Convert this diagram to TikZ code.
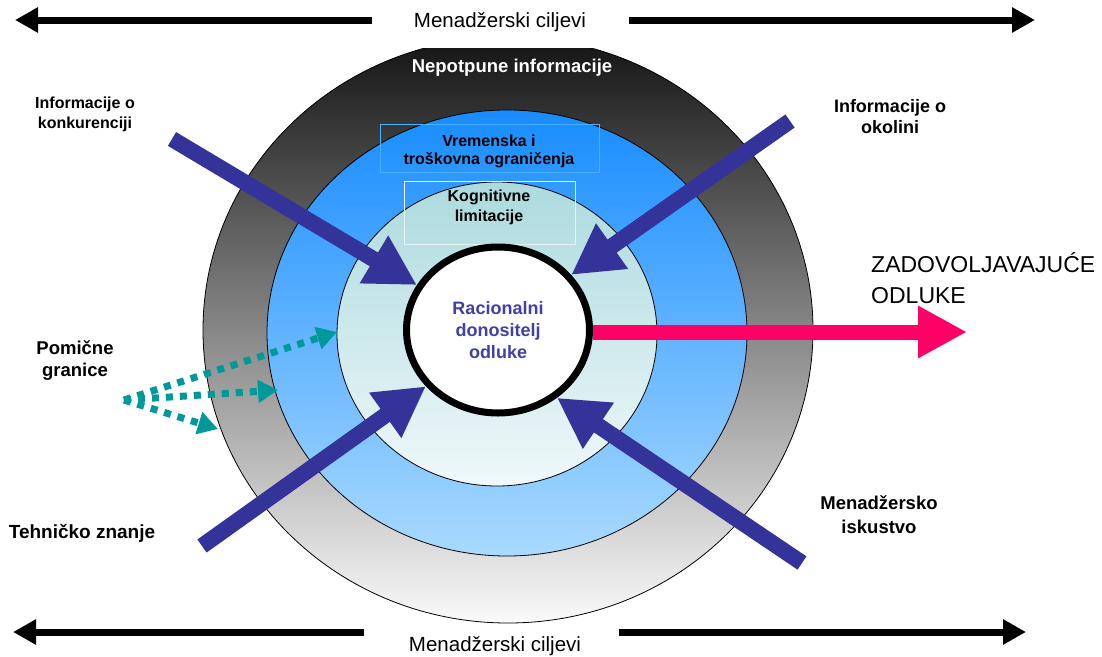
\documentclass[tikz,border=0pt]{standalone}
\usepackage{fontspec}
\setmainfont{Liberation Sans}
\usetikzlibrary{arrows.meta,shapes.geometric}
\definecolor{arrblue}{RGB}{51,51,153}
\definecolor{pinkarr}{RGB}{255,0,102}
\definecolor{tealarr}{RGB}{0,153,153}
\definecolor{bluetop}{RGB}{24,140,255}
\definecolor{bluebot}{RGB}{170,218,255}
\definecolor{cyantop}{RGB}{172,218,222}
\definecolor{cyanbot}{RGB}{240,248,250}
\definecolor{greytop}{RGB}{20,20,20}
\definecolor{greymid}{RGB}{150,150,150}
\definecolor{greybot}{RGB}{250,250,250}
\definecolor{rdotext}{RGB}{64,64,168}
\definecolor{boxblue}{RGB}{70,178,255}
\definecolor{boxwhite}{RGB}{228,242,242}
\begin{document}
\begin{tikzpicture}[x=1pt,y=-1pt,
  lbl/.style={font=\fontsize{16}{20}\selectfont\bfseries, align=center, text=black, inner sep=0pt},
  biglbl/.style={lbl, font=\fontsize{18.5}{23}\selectfont\bfseries},
  goal/.style={line width=7pt, draw=black, -{Triangle[length=23pt,width=24pt]}},
  goaltxt/.style={font=\fontsize{20.5}{24}\selectfont, inner sep=0pt},
  force/.style={line width=16pt, draw=arrblue, -{Triangle[length=50pt,width=52pt]}},
  shiftarr/.style={line width=7pt, draw=tealarr, dash pattern=on 7pt off 7pt, -{Triangle[length=20pt,width=22pt]}},
  ringline/.style={draw=black, line width=0.8pt}
]
\useasboundingbox (0,0) rectangle (1102,656);

% rings
\begin{scope}
  \clip (0,48) rectangle (1102,656);
  \shade[ringline, top color=greytop, middle color=greymid, bottom color=greybot] (508,330) ellipse [x radius=305pt, y radius=293pt];
\end{scope}
\shade[ringline, top color=bluetop, bottom color=bluebot] (507,333) ellipse [x radius=240pt, y radius=223pt];
\shade[ringline, top color=cyantop, bottom color=cyanbot] (497,334) ellipse [x radius=160pt, y radius=152pt];

% text boxes
\draw[boxblue, line width=1pt] (380,124) rectangle (599,172);
\draw[boxwhite, line width=1pt] (404,181) rectangle (575,244);

% ring texts
\node[font=\fontsize{18.5}{22}\selectfont\bfseries, text=white, inner sep=0pt] (ni) at (512,68) {Nepotpune informacije};
\node[lbl, font=\fontsize{16}{18}\selectfont\bfseries] (vt) at (489,151) {Vremenska i\\troškovna ograničenja};
\node[lbl] (kl) at (489,207) {Kognitivne\\limitacije};

% shifting boundaries
\node[biglbl, font=\fontsize{18.5}{22}\selectfont\bfseries] (pg) at (75,361) {Pomične\\granice};
\coordinate (pgs) at (124,400);
\coordinate (pg1) at (337,332);
\coordinate (pg2) at (278,390);
\coordinate (pg3) at (218,429);
\draw[shiftarr] (pgs) -- (pg1);
\draw[shiftarr] (pgs) -- (pg2);
\draw[shiftarr] (pgs) -- (pg3);

% central decision maker
\node[ellipse, draw=black, line width=7pt, fill=white, minimum width=183pt, minimum height=166pt, inner sep=0pt,
      font=\fontsize{18}{22}\selectfont\bfseries, text=rdotext, align=center] (rdo) at (498,330) {Racionalni\\donositelj\\odluke};

% output arrow
\coordinate (zt) at (967,332);
\draw[line width=15pt, draw=pinkarr, -{Triangle[length=49pt,width=49pt]}] (rdo.east |- zt) -- (zt);
\node[font=\fontsize{23}{31}\selectfont, align=left, anchor=north west, inner sep=0pt] (zo) at (871,252) {ZADOVOLJAVAJUĆE\\ODLUKE};

% influences
\node[lbl] (ik) at (85,114) {Informacije o\\konkurenciji};
\node[biglbl, font=\fontsize{18}{21}\selectfont\bfseries] (io) at (890,117) {Informacije o\\okolini};
\node[biglbl, font=\fontsize{19}{23}\selectfont\bfseries] (tz) at (82,533) {Tehničko znanje};
\node[biglbl, font=\fontsize{18.5}{24}\selectfont\bfseries] (mi) at (879,515) {Menadžersko\\iskustvo};
\coordinate (f1) at (172,139);
\coordinate (f2) at (790,121);
\coordinate (f3) at (202,546);
\coordinate (f4) at (802,563);
\draw[force] (f1) -- (rdo.151);
\draw[force] (f2) -- (rdo.37);
\draw[force] (f3) -- (rdo.218);
\draw[force] (f4) -- (rdo.311);

% managerial goals
\node[goaltxt, anchor=base] (gt) at (500,27) {Menadžerski ciljevi};
\coordinate (gtl) at (15,20);
\coordinate (gtla) at (372,20);
\coordinate (gtra) at (629,20);
\coordinate (gtr) at (1035,20);
\draw[goal] (gtla) -- (gtl);
\draw[goal] (gtra) -- (gtr);

\node[goaltxt, anchor=base] (gb) at (495,651) {Menadžerski ciljevi};
\coordinate (gbl) at (13,632);
\coordinate (gbla) at (364,632);
\coordinate (gbra) at (619,632);
\coordinate (gbr) at (1026,632);
\draw[goal] (gbla) -- (gbl);
\draw[goal] (gbra) -- (gbr);
\end{tikzpicture}
\end{document}
